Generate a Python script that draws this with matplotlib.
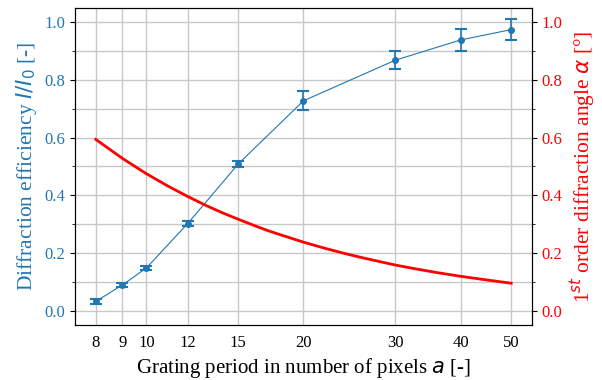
import matplotlib
matplotlib.use("Agg")
import matplotlib.pyplot as plt
from matplotlib.ticker import FixedLocator, NullLocator, MultipleLocator, FixedFormatter

plt.rcParams['font.family'] = ['Liberation Serif', 'DejaVu Serif']
plt.rcParams['mathtext.fontset'] = 'dejavusans'

# Data
period = [8, 9, 10, 12, 15, 20, 30, 40, 50]
efficiency = [0.032, 0.089, 0.148, 0.302, 0.509, 0.728, 0.869, 0.939, 0.975]
eff_err = [0.008, 0.006, 0.006, 0.008, 0.010, 0.033, 0.031, 0.039, 0.036]

angle_period = [8, 9, 10, 11, 12, 13, 14, 15, 16, 17, 18, 20, 22, 24, 26, 28,
                30, 33, 36, 40, 45, 50]
angle_deg = [0.594, 0.528, 0.475, 0.432, 0.396, 0.365, 0.339, 0.317, 0.297,
             0.279, 0.264, 0.2375, 0.216, 0.198, 0.183, 0.170, 0.158, 0.144,
             0.132, 0.119, 0.106, 0.095]

tick_labels = ['8', '9', '10', '12', '15', '20', '30', '40', '50']

blue = '#1f77b4'
red = '#ff0000'

fig, ax = plt.subplots(figsize=(6.02, 3.80), dpi=100)
fig.subplots_adjust(left=0.1246, right=0.8837, top=0.979, bottom=0.1447)

ax.errorbar(period, efficiency, yerr=eff_err, color=blue, marker='o', markersize=4,
            linewidth=0.8, capsize=4, capthick=1.5, elinewidth=1.2, zorder=3)
ax.set_xscale('log')
ax.xaxis.set_major_locator(FixedLocator(period))
ax.xaxis.set_major_formatter(FixedFormatter(tick_labels))
ax.xaxis.set_minor_locator(NullLocator())
ax.set_ylim(-0.05, 1.05)
ax.yaxis.set_major_locator(MultipleLocator(0.2))
ax.yaxis.set_minor_locator(MultipleLocator(0.1))
ax.grid(True, which='both', color='#c8c8c8', linewidth=1.0)
ax.set_axisbelow(True)
ax.tick_params(axis='y', colors=blue, labelsize=12)
ax.tick_params(axis='y', which='both', color='black')
ax.tick_params(axis='x', labelsize=12, length=0, pad=7)
ax.set_xlabel('Grating period in number of pixels $a$ [-]', fontsize=15)
ax.set_ylabel('Diffraction efficiency $I/I_0$ [-]', fontsize=15.5, color=blue, labelpad=4)

ax2 = ax.twinx()
ax2.plot(angle_period, angle_deg, color=red, linewidth=2.0)
ax2.set_ylim(-0.05, 1.05)
ax2.yaxis.set_major_locator(MultipleLocator(0.2))
ax2.yaxis.set_minor_locator(MultipleLocator(0.1))
ax2.tick_params(axis='y', colors=red, labelsize=12)
ax2.tick_params(axis='y', which='both', color='black')
ax2.set_ylabel(r'1$^{st}$ order diffraction angle $\alpha$ [°]', fontsize=15.5, color=red)

fig.savefig('out.png', dpi=100)
